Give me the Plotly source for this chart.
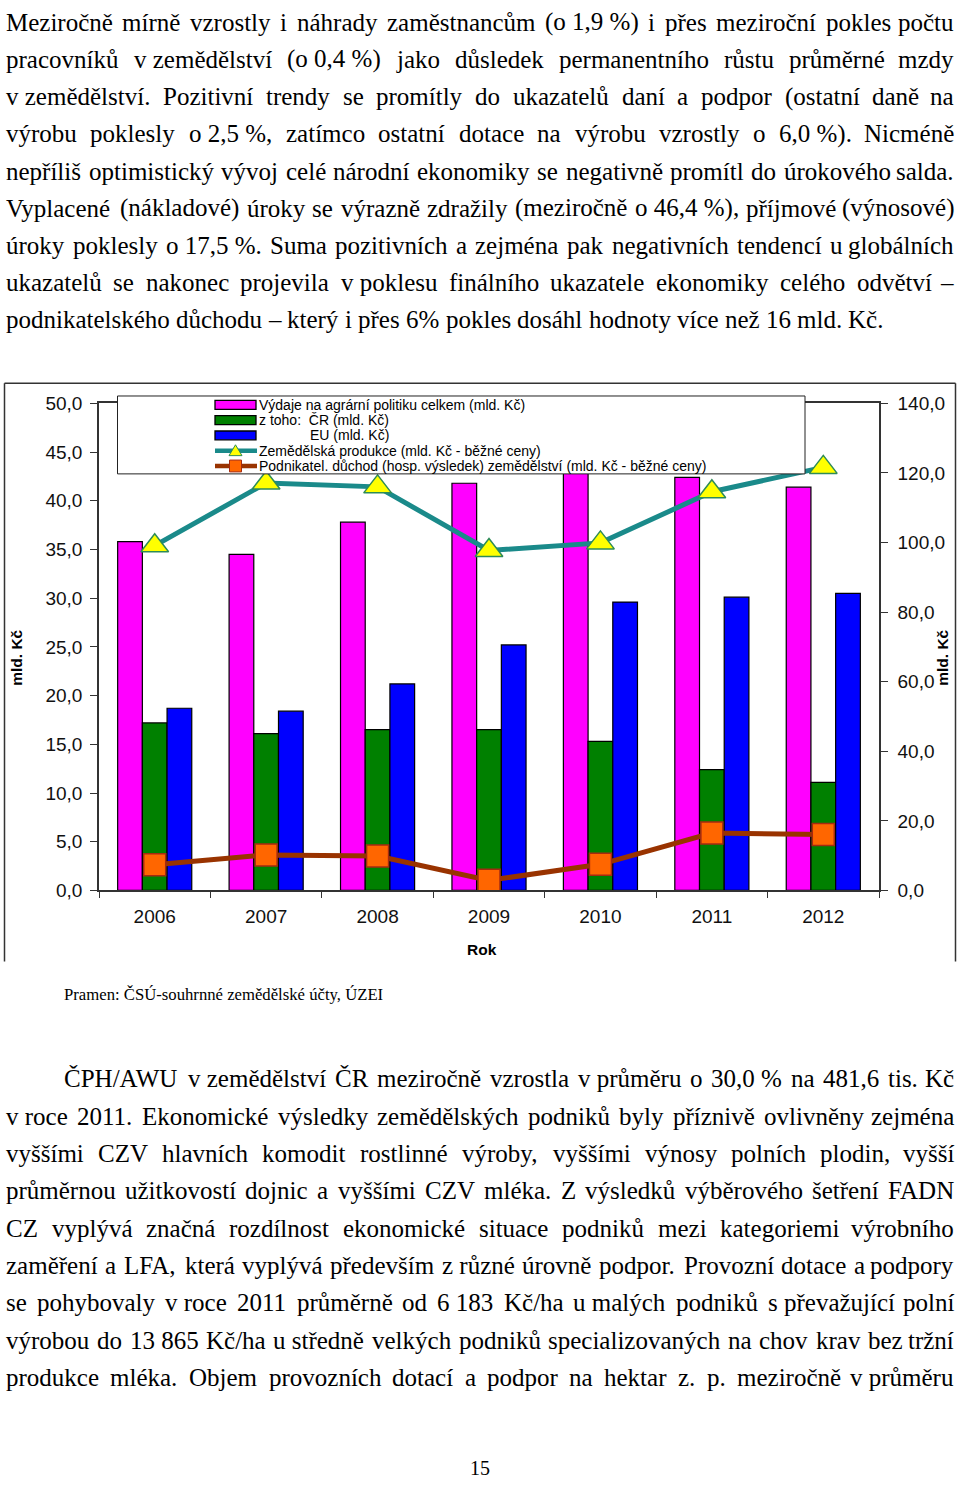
import plotly.graph_objects as go

# ---------------- data ----------------
years = ["2006", "2007", "2008", "2009", "2010", "2011", "2012"]
vydaje_celkem = [35.8, 34.5, 37.8, 41.8, 44.9, 42.4, 41.4]   # mld. Kč (left axis)
vydaje_cr = [17.2, 16.1, 16.5, 16.5, 15.3, 12.4, 11.1]
vydaje_eu = [18.7, 18.4, 21.2, 25.2, 29.6, 30.1, 30.5]
zem_produkce = [99.1, 117.1, 116.0, 97.7, 99.9, 114.6, 121.6]  # right axis
podn_duchod = [7.4, 10.2, 9.9, 2.9, 7.5, 16.5, 16.1]          # right axis

left_range = [0, 50]
left_dtick = 5
right_range = [0, 140]
right_dtick = 20

legend_names = [
    "Výdaje na agrární politiku celkem (mld. Kč)",
    "z toho:  ČR (mld. Kč)",
    "EU (mld. Kč)",
    "Zemědělská produkce (mld. Kč - běžné ceny)",
    "Podnikatel. důchod (hosp. výsledek) zemědělství (mld. Kč - běžné ceny)",
]
axis_title = "mld. Kč"
x_title = "Rok"
source_text = "Pramen: ČSÚ-souhrnné zemědělské účty, ÚZEI"
page_number = "15"

NB = "\u00a0"
para1 = [
    "Meziročně mírně vzrostly i náhrady zaměstnancům (o" + NB + "1,9" + NB + "%) i přes meziroční pokles počtu",
    "pracovníků v" + NB + "zemědělství (o" + NB + "0,4" + NB + "%) jako důsledek permanentního růstu průměrné mzdy",
    "v" + NB + "zemědělství. Pozitivní trendy se promítly do ukazatelů daní a podpor (ostatní daně na",
    "výrobu poklesly o" + NB + "2,5" + NB + "%, zatímco ostatní dotace na výrobu vzrostly o 6,0" + NB + "%). Nicméně",
    "nepříliš optimistický vývoj celé národní ekonomiky se negativně promítl do úrokového salda.",
    "Vyplacené (nákladové) úroky se výrazně zdražily (meziročně o" + NB + "46,4" + NB + "%), příjmové (výnosové)",
    "úroky poklesly o" + NB + "17,5" + NB + "%. Suma pozitivních a zejména pak negativních tendencí u globálních",
    "ukazatelů se nakonec projevila v" + NB + "poklesu finálního ukazatele ekonomiky celého odvětví –",
    "podnikatelského důchodu – který i přes 6% pokles dosáhl hodnoty více než 16 mld. Kč.",
]
para2 = [
    "ČPH/AWU v" + NB + "zemědělství ČR meziročně vzrostla v" + NB + "průměru o 30,0" + NB + "% na 481,6 tis. Kč",
    "v" + NB + "roce 2011. Ekonomické výsledky zemědělských podniků byly příznivě ovlivněny zejména",
    "vyššími CZV hlavních komodit rostlinné výroby, vyššími výnosy polních plodin, vyšší",
    "průměrnou užitkovostí dojnic a vyššími CZV mléka. Z výsledků výběrového šetření FADN",
    "CZ vyplývá značná rozdílnost ekonomické situace podniků mezi kategoriemi výrobního",
    "zaměření a LFA, která vyplývá především z" + NB + "různé úrovně podpor. Provozní dotace a podpory",
    "se pohybovaly v" + NB + "roce 2011 průměrně od 6" + NB + "183 Kč/ha u" + NB + "malých podniků s" + NB + "převažující polní",
    "výrobou do 13" + NB + "865 Kč/ha u" + NB + "středně velkých podniků specializovaných na chov krav bez tržní",
    "produkce mléka. Objem provozních dotací a podpor na hektar z. p. meziročně v" + NB + "průměru",
]

# ---------------- styling ----------------
FW, FH = 960, 1492
def px(x):
    return x / FW
def py(y):
    return 1 - y / FH

MAGENTA = "#FF00FF"
GREEN = "#008000"
BLUE = "#0000FF"
TEAL = "#1A8A8A"
YELLOW = "#FFFF00"
ORANGE = "#FF6600"
BROWN = "#993300"
SANS = "Liberation Sans, Arial, sans-serif"
SERIF = "Liberation Serif, Times New Roman, serif"

fig = go.Figure()
bar_line = dict(color="black", width=1.2)
fig.add_trace(go.Bar(x=years, y=vydaje_celkem, name=legend_names[0],
                     marker=dict(color=MAGENTA, line=bar_line)))
fig.add_trace(go.Bar(x=years, y=vydaje_cr, name=legend_names[1],
                     marker=dict(color=GREEN, line=bar_line)))
fig.add_trace(go.Bar(x=years, y=vydaje_eu, name=legend_names[2],
                     marker=dict(color=BLUE, line=bar_line)))
fig.add_trace(go.Scatter(x=years, y=podn_duchod, name=legend_names[4], yaxis="y2",
                         mode="lines+markers", cliponaxis=False,
                         line=dict(color=BROWN, width=5),
                         marker=dict(symbol="square", size=22, color=ORANGE,
                                     line=dict(color="#A52A10", width=1.5))))
fig.add_trace(go.Scatter(x=years, y=zem_produkce, name=legend_names[3], yaxis="y2",
                         mode="lines+markers", cliponaxis=False,
                         line=dict(color=TEAL, width=5),
                         marker=dict(symbol="triangle-up", size=24, color=YELLOW,
                                     line=dict(color="#2E8B57", width=1.5))))

# ---------------- justified page text ----------------
CW = {' ': 250, NB: 250, ',': 250, '.': 250, ':': 278, ';': 278, '(': 333, ')': 333,
      '%': 833, '-': 333, '–': 500, '/': 278}
for c in "0123456789":
    CW[c] = 500
CW.update(dict(a=444, b=500, c=444, d=500, e=444, f=333, g=500, h=500, i=278, j=278,
               k=500, l=278, m=778, n=500, o=500, p=500, q=500, r=333, s=389, t=278,
               u=500, v=500, w=722, x=500, y=500, z=444))
CW.update(dict(A=722, B=667, C=667, D=722, E=611, F=556, G=722, H=722, I=333, J=389,
               K=722, L=611, M=889, N=722, O=722, P=556, Q=722, R=667, S=556, T=611,
               U=722, V=722, W=944, X=722, Y=722, Z=611))
ACC = {'á': 'a', 'č': 'c', 'ď': 'd', 'é': 'e', 'ě': 'e', 'í': 'i', 'ň': 'n', 'ó': 'o',
       'ř': 'r', 'š': 's', 'ť': 't', 'ú': 'u', 'ů': 'u', 'ý': 'y', 'ž': 'z',
       'Č': 'C', 'Ř': 'R', 'Š': 'S', 'Ú': 'U', 'Ž': 'Z', 'Ý': 'Y', 'É': 'E'}

def text_width(s, size):
    return sum(CW.get(ACC.get(ch, ch), 500) for ch in s) * size / 1000.0

annotations = []

def add_text_line(line, left, right, yc, size, justify):
    words = line.split(" ")
    widths = [text_width(w, size) for w in words]
    if justify and len(words) > 1:
        gap = (right - left - sum(widths)) / (len(words) - 1)
    else:
        gap = 250 * size / 1000.0
    x = left
    for k, (w, wd) in enumerate(zip(words, widths)):
        last = justify and k == len(words) - 1
        annotations.append(dict(
            text=w, x=px(right if last else x), y=py(yc), xref="paper", yref="paper",
            xanchor="right" if last else "left", yanchor="middle", showarrow=False,
            borderpad=0, font=dict(family=SERIF, size=size, color="black")))
        x += wd + gap

FS = 25
for i, line in enumerate(para1):
    add_text_line(line, 5, 955, 12.5 + 37.7 * i, FS, i < len(para1) - 1)
for i, line in enumerate(para2):
    add_text_line(line, 63 if i == 0 else 5, 955, 1084 + 37.9 * i, FS, True)

annotations.append(dict(text=source_text, x=px(63), y=py(999), xref="paper", yref="paper",
                        xanchor="left", yanchor="middle", showarrow=False, borderpad=0,
                        font=dict(family=SERIF, size=16.7, color="black")))
annotations.append(dict(text=page_number, x=px(480), y=py(1479), xref="paper", yref="paper",
                        xanchor="center", yanchor="middle", showarrow=False, borderpad=0,
                        font=dict(family=SERIF, size=20, color="black")))

# axis titles
annotations.append(dict(text="<b>%s</b>" % axis_title, x=px(17), y=py(657), xref="paper",
                        yref="paper", textangle=-90, showarrow=False,
                        xanchor="center", yanchor="middle",
                        font=dict(family=SANS, size=15.5, color="black")))
annotations.append(dict(text="<b>%s</b>" % axis_title, x=px(943), y=py(657), xref="paper",
                        yref="paper", textangle=-90, showarrow=False,
                        xanchor="center", yanchor="middle",
                        font=dict(family=SANS, size=15.5, color="black")))
annotations.append(dict(text="<b>%s</b>" % x_title, x=px(482), y=py(953), xref="paper",
                        yref="paper", showarrow=False, xanchor="center", yanchor="middle",
                        font=dict(family=SANS, size=15.5, color="black")))

# ---------------- manual legend ----------------
shapes = []
FRAME = "#333333"
# chart frame
shapes.append(dict(type="line", xref="paper", yref="paper", x0=px(4.5), x1=px(4.5),
                   y0=py(378.5), y1=py(965), line=dict(color=FRAME, width=1.5)))
shapes.append(dict(type="line", xref="paper", yref="paper", x0=px(4.5), x1=px(955.5),
                   y0=py(378.5), y1=py(378.5), line=dict(color=FRAME, width=1.5)))
shapes.append(dict(type="line", xref="paper", yref="paper", x0=px(955.5), x1=px(955.5),
                   y0=py(378.5), y1=py(965), line=dict(color=FRAME, width=1.5)))
# legend box
shapes.append(dict(type="rect", xref="paper", yref="paper", layer="above",
                   x0=px(117.5), x1=px(805), y0=py(470.5), y1=py(391.5),
                   fillcolor="white", line=dict(color="#222", width=1)))
leg_y = [400.5, 416, 431.5, 447, 462.5]
sx0, sx1, sxm = 215, 256, 235.5
for yc, col in zip(leg_y[:3], [MAGENTA, GREEN, BLUE]):
    shapes.append(dict(type="rect", xref="paper", yref="paper", layer="above",
                       x0=px(sx0), x1=px(sx1), y0=py(yc + 4.5), y1=py(yc - 4.5),
                       fillcolor=col, line=dict(color="black", width=1.3)))
# line symbols
for yc, col in zip(leg_y[3:], [TEAL, BROWN]):
    shapes.append(dict(type="line", xref="paper", yref="paper", layer="above",
                       x0=px(sx0), x1=px(sx1 + 1), y0=py(yc), y1=py(yc),
                       line=dict(color=col, width=4.5)))
yc = leg_y[3]
tri = "M %f %f L %f %f L %f %f Z" % (px(sxm), py(yc - 6), px(sxm - 6.5), py(yc + 5),
                                      px(sxm + 6.5), py(yc + 5))
shapes.append(dict(type="path", xref="paper", yref="paper", layer="above", path=tri,
                   fillcolor=YELLOW, line=dict(color="#2E8B57", width=1)))
yc = leg_y[4]
shapes.append(dict(type="rect", xref="paper", yref="paper", layer="above",
                   x0=px(sxm - 6), x1=px(sxm + 6), y0=py(yc + 6), y1=py(yc - 6),
                   fillcolor=ORANGE, line=dict(color="#A52A10", width=1)))
leg_x = [258, 258, 309, 258, 258]
for name, yc, xl in zip(legend_names, leg_y, leg_x):
    annotations.append(dict(text=name.replace("  ", NB + " "), x=px(xl), y=py(yc),
                            xref="paper", yref="paper", xanchor="left", yanchor="middle",
                            showarrow=False, borderpad=0,
                            font=dict(family=SANS, size=14, color="black")))

axis_font = dict(family=SANS, size=19, color="#111")
fig.update_layout(
    width=FW, height=FH,
    margin=dict(l=0, r=0, t=0, b=0),
    paper_bgcolor="white", plot_bgcolor="white",
    showlegend=False,
    separators=", ",
    barmode="group", bargap=0.335, bargroupgap=0,
    xaxis=dict(domain=[px(99), px(879)], type="category", tickson="boundaries",
               ticks="outside", ticklen=6, tickcolor=FRAME, showline=True, mirror=True,
               linecolor=FRAME, linewidth=1.5, showgrid=False, tickfont=axis_font,
               ticklabelstandoff=8),
    yaxis=dict(domain=[py(893), py(399)], range=left_range, dtick=left_dtick, tick0=0,
               tickformat=".1f", ticks="outside", ticklen=7, tickcolor=FRAME,
               showline=True, linecolor=FRAME, linewidth=1.5, showgrid=False,
               zeroline=False, tickfont=axis_font, ticklabelstandoff=4),
    yaxis2=dict(range=right_range, dtick=right_dtick, tick0=0, tickformat=".1f",
                overlaying="y", side="right", ticks="outside", ticklen=7,
                tickcolor=FRAME, showline=True, linecolor=FRAME, linewidth=1.5,
                showgrid=False, zeroline=False, tickfont=axis_font,
                ticklabelstandoff=6),
    shapes=shapes,
    annotations=annotations,
)

fig.write_html(
    "out.html",
    config={"displayModeBar": False},
    post_script="document.body.style.margin='0';document.body.style.overflow='hidden';"
                "var d=document.getElementById('{plot_id}');d.style.margin='0';",
)
